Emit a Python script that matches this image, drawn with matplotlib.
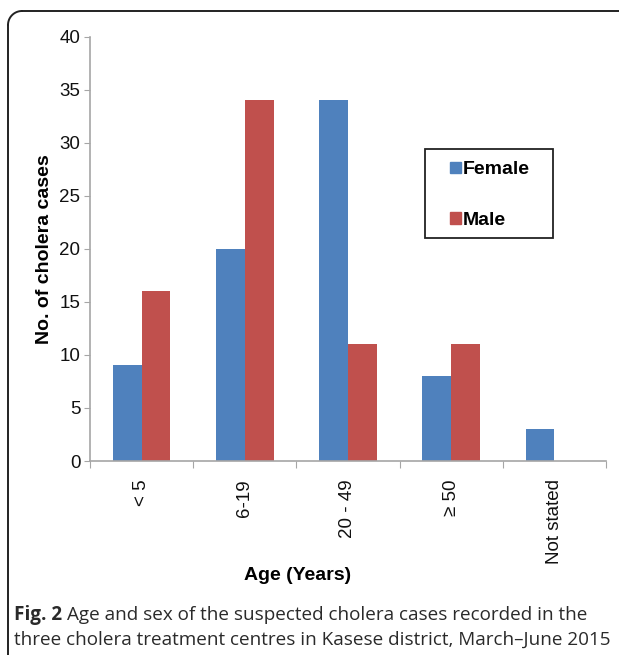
import matplotlib
matplotlib.use("Agg")
import matplotlib.pyplot as plt
import numpy as np
from matplotlib.patches import Rectangle
from matplotlib.lines import Line2D

categories = ["< 5", "6-19", "20 - 49", "\u2265 50", "Not stated"]
female = [9, 20, 34, 8, 3]
male = [16, 34, 11, 11, 0]
series_names = ["Female", "Male"]
yticks = [0, 5, 10, 15, 20, 25, 30, 35, 40]

BLUE = "#4F81BD"
RED = "#C0504D"
AXC = "#A6A6A6"

W, H = 619, 655
fig = plt.figure(figsize=(W / 100, H / 100), dpi=100)

def fx(px):
    return px / W

def fy(py):
    return 1 - py / H

# axes
ax = fig.add_axes([fx(90), fy(461), fx(606) - fx(90), fy(36.5) - fy(461)])
x = np.arange(len(categories))
bw = 0.28
m = np.array(male)
ax.bar(x - bw / 2, female, bw, color=BLUE, label=series_names[0])
ax.bar(x[m > 0] + bw / 2, m[m > 0], bw, color=RED, label=series_names[1])
ax.set_xlim(-0.5, len(categories) - 0.5)
ax.set_ylim(0, 40)
ax.set_yticks(yticks)
ax.set_yticklabels([str(v) for v in yticks], family="Liberation Sans", fontsize=13.5, color="#111111")
ax.set_xticks(np.arange(len(categories) + 1) - 0.5)
ax.set_xticklabels([])
ax.set_xticks(x, minor=True)
ax.set_xticklabels(categories, minor=True, rotation=90, family="Liberation Sans", fontsize=13.5,
                   va="top", color="#111111")
ax.tick_params(axis="x", which="minor", length=0, pad=13)
ax.tick_params(axis="x", which="major", length=5, color=AXC, direction="out")
ax.tick_params(axis="y", length=4, color=AXC, direction="out", pad=3)
for s in ["top", "right"]:
    ax.spines[s].set_visible(False)
for s in ["left", "bottom"]:
    ax.spines[s].set_color(AXC)
    ax.spines[s].set_linewidth(1.2)

axw = fx(606) - fx(90)
ax.set_ylabel("No. of cholera cases", family="Liberation Sans", fontweight="bold", fontsize=14)
ax.yaxis.set_label_coords((fx(53) - fx(90)) / axw, 0.5)
fig.text(fx(298), fy(576), "Age (Years)", family="Liberation Sans", fontweight="bold",
         fontsize=14, ha="center", va="center")

# legend box
fig.add_artist(Rectangle((fx(425), fy(238)), fx(553) - fx(425), fy(149) - fy(238),
                         transform=fig.transFigure, fill=False, edgecolor="#222222", lw=1.3))
handles = [Rectangle((0, 0), 1, 1, color=BLUE), Rectangle((0, 0), 1, 1, color=RED)]
leg = fig.legend(handles, series_names, loc="center", bbox_to_anchor=(fx(490), fy(195)),
                 frameon=False, handlelength=0.55, handleheight=0.55, handletextpad=0.12,
                 labelspacing=1.7, prop={"family": "Liberation Sans", "weight": "bold", "size": 14})

# border with rounded top-left corner
r = 14
bc = "#222222"
fig.add_artist(Line2D([fx(8), fx(8)], [fy(11 + r), fy(660)], transform=fig.transFigure, color=bc, lw=1.4))
fig.add_artist(Line2D([fx(8 + r), fx(630)], [fy(11), fy(11)], transform=fig.transFigure, color=bc, lw=1.4))
t = np.linspace(np.pi / 2, np.pi, 30)
cx, cy = 8 + r, 11 + r
fig.add_artist(Line2D([fx(cx + r * np.cos(a)) for a in t], [fy(cy - r * np.sin(a)) for a in t],
                      transform=fig.transFigure, color=bc, lw=1.4))

# caption
cap_kw = dict(family="Open Sans", fontsize=13.6, color="#2a2a2a", va="baseline")
fig.canvas.draw()
renderer = fig.canvas.get_renderer()
t1 = fig.text(fx(14), fy(620), "Fig. 2", fontweight="bold", **cap_kw)
bb = t1.get_window_extent(renderer)
fig.text(bb.x1 / W + fx(5), fy(620), "Age and sex of the suspected cholera cases recorded in the", **cap_kw)
fig.text(fx(14), fy(645), "three cholera treatment centres in Kasese district, March\u2013June 2015", **cap_kw)

fig.savefig("out.png", dpi=100)
